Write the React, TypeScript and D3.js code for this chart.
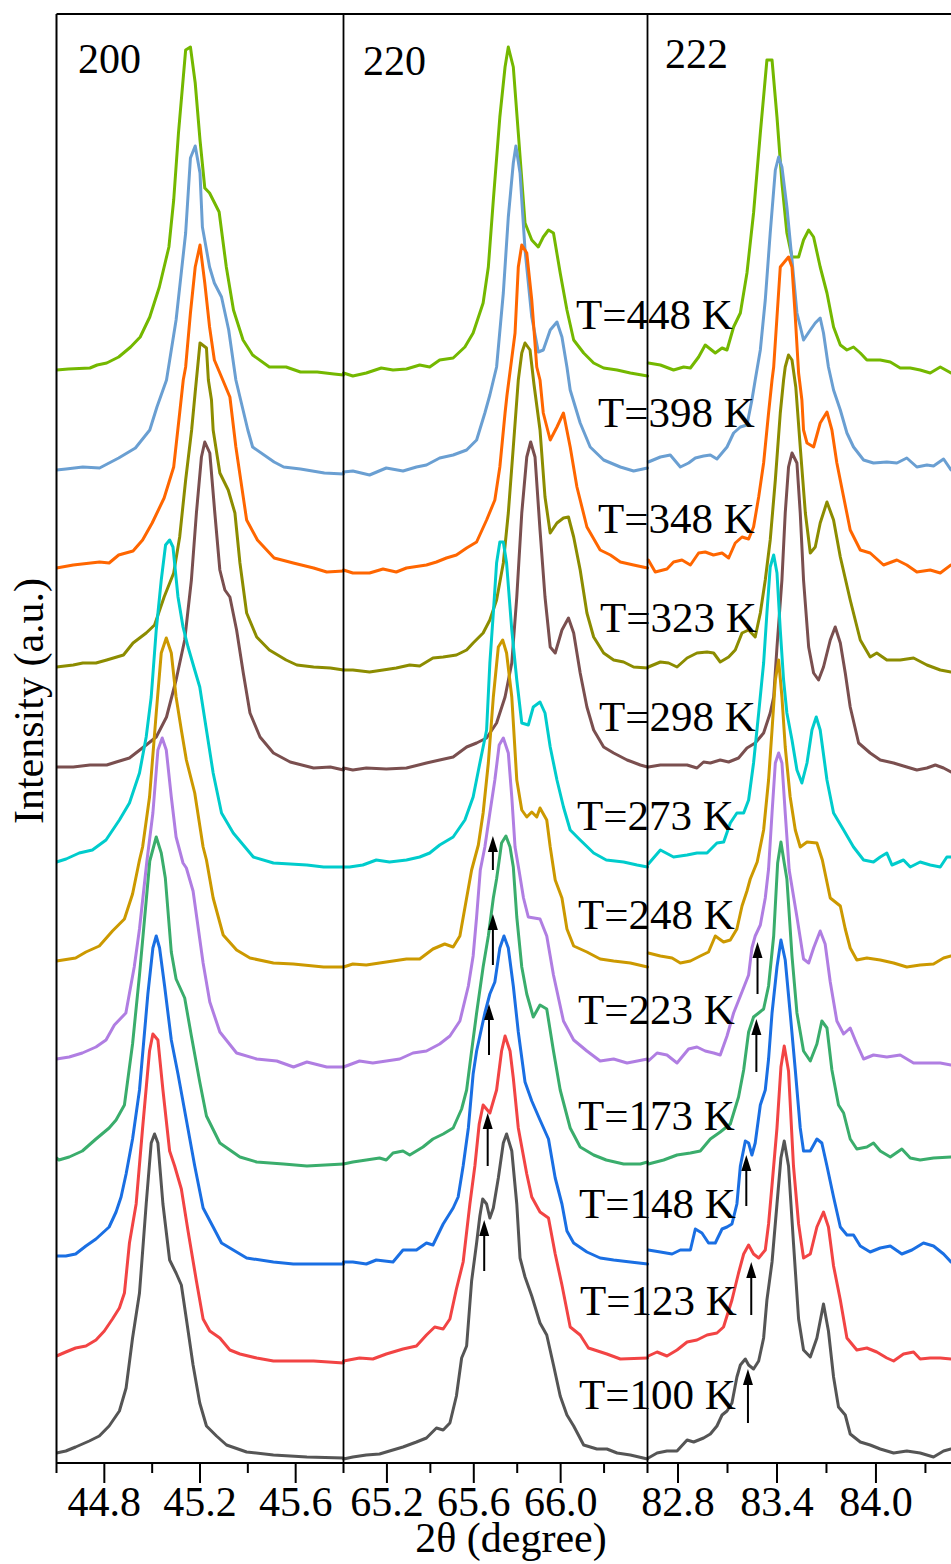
import React from 'react';
import * as d3 from 'd3';

const W = 951;
const H = 1564;
const plotTop = 14;
const plotBottom = 1463;
const edges = [56.5, 343.5, 647.5, 951];
const serif = '"Liberation Serif", "Times New Roman", serif';

// series, top to bottom
const temps = ['448', '398', '348', '323', '298', '273', '248', '223', '173', '148', '123', '100'];
const offsets = [1093, 993, 895, 796, 696, 601, 502, 404, 305, 207, 107, 10];
const colors = ['#74b800', '#6a9fd2', '#ff6600', '#8c8c00', '#7a4f4f', '#00cccc', '#cc9900', '#b07ee2', '#3aad6c', '#1a6fe3', '#f24444', '#555555'];

const reflections = ['200', '220', '222'];
const domains = [[44.6, 45.8], [65.0, 66.4], [82.615, 84.455]];
const majorTicks = [[44.8, 45.2, 45.6], [65.2, 65.6, 66.0], [82.8, 83.4, 84.0]];
const minorTicks = [[44.6, 45.0, 45.4, 45.8], [65.4, 65.8, 66.2, 66.4], [83.1, 83.7, 84.3]];

// (200) reflection: [2theta, intensity above baseline]
const p200_448 = [[44.60,0],[44.65,1],[44.74,2],[44.77,5],[44.81,7],[44.86,13],[44.91,23],[44.95,33],[44.99,53],[45.03,83],[45.07,123],[45.09,170],[45.11,237],[45.14,320],[45.16,323],[45.18,287],[45.20,230],[45.22,182],[45.24,177],[45.28,158],[45.31,103],[45.34,60],[45.38,30],[45.42,15],[45.49,3],[45.56,3],[45.62,-2],[45.69,-2],[45.76,-4],[45.80,-5]];
const p200_398 = [[44.60,0],[44.64,1],[44.71,3],[44.78,2],[44.86,12],[44.93,22],[44.99,40],[45.02,63],[45.06,90],[45.10,150],[45.14,237],[45.16,312],[45.18,324],[45.20,297],[45.21,243],[45.24,203],[45.26,187],[45.29,173],[45.32,140],[45.35,90],[45.37,70],[45.40,40],[45.42,23],[45.51,8],[45.55,3],[45.62,1],[45.72,-3],[45.80,-4]];
const p200_348 = [[44.60,0],[44.67,3],[44.78,6],[44.82,5],[44.86,13],[44.92,17],[44.96,28],[45.00,45],[45.05,70],[45.09,101],[45.115,155],[45.13,188],[45.14,201],[45.16,255],[45.18,301],[45.20,323],[45.22,285],[45.24,241],[45.26,208],[45.29,191],[45.325,171],[45.35,121],[45.395,48],[45.44,28],[45.51,10],[45.59,5],[45.675,0],[45.73,-4],[45.80,-3]];
const p200_323 = [[44.60,0],[44.67,2],[44.71,4],[44.765,4],[44.81,7],[44.88,12],[44.92,24],[44.975,34],[45.01,42],[45.05,70],[45.09,94],[45.115,130],[45.14,187],[45.165,237],[45.18,275],[45.20,324],[45.227,319],[45.235,287],[45.248,267],[45.255,237],[45.283,194],[45.318,177],[45.346,154],[45.367,104],[45.395,54],[45.437,30],[45.49,17],[45.56,7],[45.605,2],[45.675,0],[45.745,-1],[45.80,-3]];
const p200_298 = [[44.60,0],[44.67,0],[44.74,2],[44.81,2],[44.85,5],[44.905,9],[44.975,22],[45.017,30],[45.06,50],[45.10,87],[45.136,127],[45.164,187],[45.185,254],[45.206,310],[45.22,325],[45.241,314],[45.262,254],[45.283,197],[45.304,177],[45.325,170],[45.353,137],[45.381,94],[45.409,54],[45.451,30],[45.507,14],[45.577,5],[45.675,-1],[45.745,0],[45.80,-3]];
const p200_273 = [[44.60,0],[44.64,3],[44.695,9],[44.75,12],[44.807,22],[44.863,42],[44.905,59],[44.947,89],[44.975,125],[44.996,165],[45.017,232],[45.038,282],[45.056,317],[45.073,322],[45.087,315],[45.108,265],[45.129,235],[45.15,215],[45.178,192],[45.199,175],[45.227,132],[45.255,89],[45.29,49],[45.339,29],[45.423,5],[45.507,-1],[45.647,-3],[45.717,-5],[45.80,-5]];
const p200_248 = [[44.60,0],[44.68,3],[44.723,9],[44.779,15],[44.834,30],[44.884,42],[44.918,67],[44.947,101],[44.96,114],[44.989,164],[45.017,248],[45.038,308],[45.059,323],[45.08,308],[45.10,264],[45.122,231],[45.143,201],[45.178,168],[45.213,114],[45.227,101],[45.255,63],[45.297,26],[45.353,11],[45.409,3],[45.507,-2],[45.59,-3],[45.717,-6],[45.80,-6]];
const p200_223 = [[44.60,0],[44.653,2],[44.708,6],[44.765,12],[44.807,19],[44.842,34],[44.89,46],[44.925,92],[44.947,130],[44.978,198],[45.003,246],[45.024,309],[45.042,321],[45.059,309],[45.08,262],[45.10,222],[45.129,196],[45.143,191],[45.171,168],[45.213,96],[45.241,57],[45.283,27],[45.353,6],[45.437,0],[45.521,-2],[45.591,-8],[45.647,-3],[45.73,-8],[45.80,-8]];
const p200_173 = [[44.60,0],[44.61,-2],[44.653,1],[44.708,7],[44.765,19],[44.82,30],[44.849,38],[44.884,53],[44.918,114],[44.947,183],[44.99,297],[45.017,321],[45.038,305],[45.055,280],[45.08,206],[45.10,179],[45.136,160],[45.164,122],[45.199,76],[45.227,42],[45.283,15],[45.367,1],[45.437,-4],[45.549,-6],[45.647,-8],[45.80,-6]];
const p200_148 = [[44.60,0],[44.639,0],[44.68,2],[44.723,10],[44.765,17],[44.82,29],[44.849,44],[44.87,59],[44.891,82],[44.918,117],[44.947,166],[44.982,262],[45.003,308],[45.017,320],[45.031,308],[45.052,270],[45.08,216],[45.108,182],[45.143,136],[45.178,90],[45.213,48],[45.255,29],[45.29,13],[45.339,6],[45.395,-2],[45.507,-6],[45.59,-8],[45.80,-8]];
const p200_123 = [[44.60,0],[44.639,4],[44.68,8],[44.723,10],[44.765,16],[44.80,25],[44.834,37],[44.863,48],[44.884,63],[44.905,113],[44.933,152],[44.96,228],[44.989,305],[45.003,322],[45.024,316],[45.045,266],[45.073,205],[45.094,190],[45.122,167],[45.15,125],[45.185,75],[45.213,37],[45.241,25],[45.283,18],[45.325,6],[45.367,2],[45.437,-2],[45.507,-5],[45.675,-5],[45.80,-7]];
const p200_100 = [[44.60,0],[44.639,2],[44.68,6],[44.737,12],[44.779,17],[44.82,27],[44.863,42],[44.891,65],[44.918,115],[44.947,160],[44.975,249],[44.996,310],[45.01,319],[45.024,310],[45.045,249],[45.073,193],[45.10,180],[45.122,168],[45.143,134],[45.171,88],[45.199,50],[45.227,27],[45.269,17],[45.311,8],[45.395,1],[45.507,-2],[45.647,-4],[45.80,-5]];

// (220) reflection
const p220_448 = [[65.00,-3],[65.043,-6],[65.105,-3],[65.174,2],[65.228,0],[65.29,1],[65.351,5],[65.397,3],[65.443,10],[65.505,12],[65.559,23],[65.597,37],[65.643,67],[65.667,103],[65.69,170],[65.72,253],[65.744,303],[65.759,323],[65.782,303],[65.805,237],[65.836,147],[65.867,130],[65.897,123],[65.92,133],[65.944,140],[65.967,137],[65.998,97],[66.029,60],[66.06,30],[66.106,17],[66.152,7],[66.198,2],[66.26,0],[66.321,-3],[66.40,-6]];
const p220_398 = [[65.00,-2],[65.043,-1],[65.12,-5],[65.197,2],[65.274,-1],[65.336,3],[65.382,5],[65.443,12],[65.505,15],[65.567,20],[65.613,30],[65.651,57],[65.674,75],[65.705,103],[65.736,177],[65.759,253],[65.782,307],[65.794,324],[65.813,297],[65.836,220],[65.867,153],[65.897,118],[65.92,120],[65.952,140],[65.983,148],[66.006,133],[66.029,103],[66.044,80],[66.09,47],[66.136,23],[66.198,10],[66.275,3],[66.336,-1],[66.40,2]];
const p220_348 = [[65.00,-2],[65.043,-5],[65.12,-5],[65.182,-1],[65.243,-4],[65.29,0],[65.382,3],[65.428,6],[65.474,10],[65.52,13],[65.567,20],[65.613,26],[65.659,48],[65.697,68],[65.72,101],[65.744,155],[65.753,173],[65.79,235],[65.805,301],[65.821,323],[65.844,315],[65.867,268],[65.89,201],[65.905,188],[65.92,155],[65.952,128],[65.983,141],[66.013,155],[66.044,121],[66.075,81],[66.121,41],[66.182,18],[66.229,13],[66.275,6],[66.336,3],[66.40,0]];
const p220_323 = [[65.00,-3],[65.043,-3],[65.12,-5],[65.182,-3],[65.243,-1],[65.305,2],[65.351,1],[65.412,9],[65.459,10],[65.52,12],[65.567,17],[65.597,24],[65.643,34],[65.674,47],[65.705,67],[65.736,104],[65.759,154],[65.782,220],[65.805,287],[65.821,314],[65.836,324],[65.859,317],[65.877,283],[65.905,237],[65.928,170],[65.952,134],[65.983,144],[66.013,149],[66.036,150],[66.06,130],[66.09,97],[66.121,54],[66.152,30],[66.198,14],[66.244,7],[66.29,5],[66.336,0],[66.40,-1]];
const p220_298 = [[65.00,-1],[65.043,-3],[65.105,-1],[65.197,-2],[65.29,-1],[65.382,4],[65.443,7],[65.505,10],[65.567,20],[65.613,24],[65.659,29],[65.705,44],[65.744,70],[65.775,104],[65.798,170],[65.821,254],[65.844,310],[65.862,325],[65.882,310],[65.905,237],[65.928,170],[65.952,120],[65.975,114],[66.006,137],[66.036,149],[66.06,134],[66.09,94],[66.121,60],[66.152,37],[66.198,20],[66.244,14],[66.306,7],[66.367,2],[66.40,0]];
const p220_273 = [[65.00,-5],[65.028,-5],[65.089,-3],[65.151,2],[65.212,0],[65.29,2],[65.351,5],[65.397,9],[65.443,17],[65.505,25],[65.559,42],[65.597,65],[65.628,99],[65.659,132],[65.674,199],[65.69,249],[65.705,299],[65.72,320],[65.736,320],[65.751,299],[65.775,232],[65.798,182],[65.821,139],[65.851,137],[65.874,155],[65.905,160],[65.928,149],[65.952,115],[65.983,82],[66.013,55],[66.044,32],[66.09,22],[66.152,9],[66.21,2],[66.29,0],[66.352,-3],[66.40,-5]];
const p220_248 = [[65.00,-6],[65.043,-3],[65.105,-4],[65.166,-2],[65.228,0],[65.29,2],[65.351,2],[65.412,12],[65.466,17],[65.505,14],[65.536,25],[65.567,63],[65.59,91],[65.621,116],[65.643,148],[65.667,198],[65.69,264],[65.713,314],[65.733,321],[65.751,308],[65.775,264],[65.798,181],[65.821,151],[65.844,144],[65.867,149],[65.89,144],[65.905,153],[65.936,141],[65.952,114],[65.975,81],[66.006,63],[66.029,32],[66.06,15],[66.121,9],[66.182,2],[66.244,0],[66.321,-2],[66.40,-6]];
const p220_223 = [[65.00,-8],[65.074,-2],[65.135,-4],[65.197,-2],[65.259,0],[65.32,6],[65.382,8],[65.443,15],[65.49,23],[65.536,38],[65.575,73],[65.597,103],[65.613,142],[65.63,189],[65.651,212],[65.674,246],[65.697,279],[65.717,314],[65.736,321],[65.759,306],[65.775,262],[65.79,212],[65.808,189],[65.829,161],[65.851,142],[65.905,140],[65.936,123],[65.967,84],[66.013,38],[66.06,19],[66.121,8],[66.182,-2],[66.244,0],[66.306,-4],[66.40,0]];
const p220_173 = [[65.00,-6],[65.043,-4],[65.105,-2],[65.166,0],[65.197,-2],[65.228,5],[65.274,7],[65.305,3],[65.366,11],[65.412,19],[65.459,24],[65.505,30],[65.544,49],[65.567,68],[65.59,107],[65.613,145],[65.643,191],[65.667,222],[65.69,260],[65.705,279],[65.728,315],[65.748,322],[65.767,311],[65.782,291],[65.798,241],[65.821,191],[65.844,164],[65.874,141],[65.905,153],[65.936,149],[65.967,107],[65.998,68],[66.044,30],[66.09,11],[66.152,3],[66.21,-2],[66.29,-6],[66.367,-6],[66.40,-4]];
const p220_148 = [[65.00,-6],[65.043,-6],[65.105,-8],[65.151,-4],[65.228,-6],[65.274,6],[65.336,6],[65.382,13],[65.412,11],[65.459,32],[65.505,48],[65.528,59],[65.551,90],[65.575,128],[65.597,182],[65.613,205],[65.628,220],[65.651,243],[65.674,262],[65.697,274],[65.72,308],[65.739,320],[65.759,308],[65.782,270],[65.805,224],[65.836,174],[65.867,155],[65.905,136],[65.944,117],[65.975,78],[66.006,52],[66.029,25],[66.06,13],[66.121,4],[66.182,-2],[66.244,-4],[66.321,-6],[66.40,-8]];
const p220_123 = [[65.00,-5],[65.074,-2],[65.135,-3],[65.197,2],[65.274,7],[65.336,10],[65.382,21],[65.42,29],[65.459,27],[65.49,37],[65.52,67],[65.551,94],[65.582,152],[65.605,190],[65.625,232],[65.643,251],[65.674,243],[65.705,266],[65.728,305],[65.744,320],[65.767,305],[65.782,278],[65.805,228],[65.821,209],[65.844,182],[65.867,159],[65.905,144],[65.944,138],[65.975,102],[66.006,71],[66.044,29],[66.09,21],[66.128,8],[66.213,2],[66.275,-3],[66.40,-2]];
const p220_100 = [[65.00,-6],[65.043,-4],[65.105,-2],[65.166,-1],[65.212,2],[65.274,6],[65.336,11],[65.382,15],[65.428,25],[65.459,23],[65.49,30],[65.52,57],[65.544,95],[65.567,107],[65.59,172],[65.613,210],[65.628,237],[65.641,254],[65.659,249],[65.674,235],[65.69,245],[65.713,275],[65.736,310],[65.751,319],[65.775,302],[65.798,249],[65.813,195],[65.836,176],[65.867,157],[65.905,130],[65.936,118],[65.967,88],[65.998,57],[66.029,38],[66.06,27],[66.106,8],[66.167,4],[66.213,4],[66.26,0],[66.321,-2],[66.40,-6]];

// (222) reflection
const p222_448 = [[82.62,7],[82.693,5],[82.773,0],[82.834,3],[82.875,2],[82.925,13],[82.965,25],[83.026,17],[83.067,22],[83.097,20],[83.137,43],[83.178,57],[83.218,97],[83.258,157],[83.299,237],[83.339,310],[83.37,310],[83.40,253],[83.43,187],[83.46,137],[83.491,113],[83.531,113],[83.561,130],[83.592,140],[83.622,133],[83.662,103],[83.703,77],[83.743,43],[83.784,25],[83.824,20],[83.864,23],[83.905,17],[83.945,10],[84.026,10],[84.087,8],[84.147,2],[84.208,2],[84.268,0],[84.329,-3],[84.39,3],[84.455,-3]];
const p222_398 = [[82.62,8],[82.693,13],[82.753,15],[82.814,3],[82.864,7],[82.905,12],[82.955,14],[82.996,15],[83.036,11],[83.097,23],[83.137,37],[83.178,43],[83.218,45],[83.248,70],[83.268,90],[83.299,120],[83.329,170],[83.359,237],[83.39,300],[83.41,313],[83.43,303],[83.46,263],[83.491,210],[83.521,157],[83.561,130],[83.602,140],[83.632,147],[83.662,152],[83.682,137],[83.712,103],[83.743,80],[83.784,60],[83.824,37],[83.864,23],[83.925,10],[83.985,7],[84.066,8],[84.127,7],[84.187,12],[84.248,3],[84.309,5],[84.349,4],[84.41,11],[84.455,0]];
const p222_348 = [[82.62,8],[82.662,-4],[82.733,-1],[82.773,6],[82.824,8],[82.875,3],[82.925,15],[82.965,16],[83.015,13],[83.067,15],[83.107,10],[83.147,25],[83.188,31],[83.228,29],[83.258,41],[83.289,71],[83.319,105],[83.349,155],[83.37,188],[83.38,201],[83.40,251],[83.42,301],[83.44,305],[83.47,311],[83.491,301],[83.511,251],[83.531,195],[83.551,168],[83.561,138],[83.582,125],[83.622,121],[83.662,145],[83.703,156],[83.733,138],[83.763,105],[83.804,71],[83.844,38],[83.905,18],[83.965,15],[84.046,3],[84.127,8],[84.187,3],[84.248,-4],[84.329,-2],[84.39,-5],[84.455,3]];
const p222_323 = [[82.62,0],[82.693,5],[82.743,4],[82.794,0],[82.855,9],[82.915,14],[82.976,15],[83.016,14],[83.056,5],[83.107,10],[83.147,17],[83.188,34],[83.228,37],[83.268,30],[83.299,54],[83.329,87],[83.359,127],[83.39,187],[83.42,254],[83.44,287],[83.45,300],[83.47,312],[83.491,307],[83.514,280],[83.541,220],[83.572,154],[83.602,114],[83.632,120],[83.662,144],[83.703,165],[83.743,147],[83.784,110],[83.844,67],[83.905,27],[83.965,10],[84.005,14],[84.066,7],[84.147,7],[84.228,9],[84.309,2],[84.39,-3],[84.455,-5]];
const p222_298 = [[82.62,0],[82.693,2],[82.773,2],[82.855,2],[82.915,-1],[82.955,5],[82.996,4],[83.056,7],[83.107,5],[83.167,9],[83.218,19],[83.268,24],[83.319,34],[83.359,54],[83.38,70],[83.40,120],[83.43,187],[83.45,254],[83.47,300],[83.491,314],[83.521,304],[83.541,254],[83.561,187],[83.592,120],[83.622,94],[83.652,87],[83.682,100],[83.723,127],[83.753,140],[83.784,124],[83.814,94],[83.844,60],[83.895,24],[83.965,14],[84.026,7],[84.107,4],[84.187,0],[84.248,-3],[84.309,-1],[84.36,2],[84.41,-1],[84.455,-5]];
const p222_273 = [[82.62,-2],[82.693,12],[82.773,5],[82.855,7],[82.915,9],[82.976,9],[83.036,19],[83.077,20],[83.117,39],[83.157,49],[83.198,49],[83.228,62],[83.258,99],[83.289,149],[83.319,199],[83.339,249],[83.359,295],[83.38,307],[83.40,289],[83.42,232],[83.44,182],[83.46,149],[83.491,122],[83.521,92],[83.551,79],[83.582,99],[83.612,132],[83.638,145],[83.662,132],[83.703,82],[83.743,49],[83.804,32],[83.864,15],[83.925,2],[83.985,0],[84.026,5],[84.066,9],[84.097,-3],[84.167,2],[84.208,-5],[84.268,0],[84.329,-3],[84.39,-5],[84.43,5],[84.455,5]];
const p222_248 = [[82.62,8],[82.693,5],[82.764,3],[82.814,-2],[82.875,0],[82.935,5],[82.985,9],[83.026,25],[83.076,19],[83.117,21],[83.157,32],[83.188,55],[83.218,70],[83.238,82],[83.28,99],[83.319,131],[83.349,181],[83.37,231],[83.39,281],[83.41,301],[83.43,264],[83.45,214],[83.48,164],[83.511,131],[83.541,114],[83.582,119],[83.642,118],[83.675,101],[83.723,63],[83.784,55],[83.814,32],[83.844,13],[83.884,1],[83.945,3],[84.026,1],[84.107,-2],[84.187,-6],[84.268,-4],[84.349,-3],[84.41,3],[84.455,5]];
const p222_223 = [[82.62,-2],[82.673,6],[82.733,4],[82.794,-4],[82.864,10],[82.915,12],[82.965,8],[83.016,6],[83.056,4],[83.097,23],[83.137,46],[83.178,63],[83.228,84],[83.248,111],[83.268,123],[83.299,134],[83.329,161],[83.349,190],[83.37,246],[83.39,296],[83.41,306],[83.43,296],[83.45,246],[83.474,189],[83.521,142],[83.561,100],[83.592,96],[83.622,111],[83.662,128],[83.692,115],[83.723,77],[83.763,38],[83.804,25],[83.844,31],[83.884,15],[83.925,0],[83.985,4],[84.066,2],[84.147,4],[84.228,-4],[84.309,-4],[84.39,-4],[84.455,-6]];
const p222_173 = [[82.62,-6],[82.713,-2],[82.794,3],[82.875,5],[82.935,7],[82.996,19],[83.056,26],[83.117,34],[83.167,61],[83.198,88],[83.228,126],[83.258,141],[83.289,145],[83.319,149],[83.349,172],[83.38,222],[83.404,295],[83.424,316],[83.444,295],[83.46,279],[83.491,202],[83.521,145],[83.561,107],[83.602,97],[83.642,114],[83.672,137],[83.703,130],[83.733,88],[83.773,53],[83.804,45],[83.844,19],[83.884,9],[83.945,11],[83.985,15],[84.026,7],[84.087,1],[84.157,9],[84.208,0],[84.268,-2],[84.349,0],[84.455,1]];
const p222_148 = [[82.62,6],[82.693,4],[82.764,2],[82.814,6],[82.875,6],[82.905,27],[82.945,23],[82.985,13],[83.026,13],[83.067,27],[83.097,29],[83.127,32],[83.157,52],[83.178,90],[83.208,115],[83.228,113],[83.248,101],[83.268,113],[83.299,151],[83.329,166],[83.349,197],[83.37,243],[83.40,289],[83.424,316],[83.45,296],[83.48,243],[83.511,186],[83.541,128],[83.561,105],[83.602,105],[83.642,117],[83.672,113],[83.703,90],[83.743,59],[83.784,29],[83.824,21],[83.864,21],[83.905,10],[83.965,4],[84.026,8],[84.087,10],[84.157,2],[84.218,6],[84.288,13],[84.349,10],[84.41,2],[84.455,-6]];
const p222_123 = [[82.62,0],[82.673,4],[82.733,0],[82.794,6],[82.855,14],[82.915,16],[82.976,21],[83.036,23],[83.076,29],[83.127,56],[83.167,83],[83.198,102],[83.228,111],[83.258,102],[83.289,98],[83.329,106],[83.349,132],[83.37,171],[83.40,228],[83.424,289],[83.444,310],[83.47,285],[83.50,190],[83.531,132],[83.561,98],[83.602,102],[83.642,129],[83.682,144],[83.712,129],[83.743,90],[83.784,56],[83.824,18],[83.884,6],[83.945,8],[84.005,4],[84.066,-2],[84.107,-5],[84.167,2],[84.228,4],[84.268,-3],[84.329,-2],[84.39,-2],[84.455,-3]];
const p222_100 = [[82.62,-5],[82.673,0],[82.733,2],[82.794,2],[82.855,13],[82.895,11],[82.955,15],[82.996,19],[83.036,27],[83.067,38],[83.097,42],[83.127,50],[83.157,76],[83.178,88],[83.208,94],[83.228,88],[83.258,84],[83.289,92],[83.319,115],[83.339,153],[83.37,191],[83.40,249],[83.424,295],[83.444,312],[83.47,287],[83.50,210],[83.531,134],[83.561,103],[83.602,96],[83.642,115],[83.682,149],[83.712,122],[83.743,76],[83.773,46],[83.814,38],[83.844,19],[83.905,11],[83.965,8],[84.026,4],[84.107,0],[84.187,2],[84.268,0],[84.349,-4],[84.41,2],[84.455,4]];

const profiles = [
  [p200_448, p200_398, p200_348, p200_323, p200_298, p200_273, p200_248, p200_223, p200_173, p200_148, p200_123, p200_100],
  [p220_448, p220_398, p220_348, p220_323, p220_298, p220_273, p220_248, p220_223, p220_173, p220_148, p220_123, p220_100],
  [p222_448, p222_398, p222_348, p222_323, p222_298, p222_273, p222_248, p222_223, p222_173, p222_148, p222_123, p222_100],
];

// shoulder markers: [2theta, tail intensity, tip intensity]
const arrows220 = [[65.688, 593, 627], [65.688, 498, 549], [65.67, 408, 459], [65.664, 297, 350], [65.648, 192, 243]];
const arrows222 = [[83.282, 469, 521], [83.275, 391, 444], [83.214, 257, 308], [83.244, 148, 201], [83.224, 40, 94]];

// label anchors (layout)
const labelPos = [[576, 329], [598, 427], [598, 533], [600, 632], [599, 731], [577, 830], [578, 929], [578, 1024], [578, 1130], [579, 1218], [580, 1315], [579, 1409]];
const reflPos = [[78, 73], [363, 75], [665, 68]];

const y = d3.scaleLinear().domain([0, plotBottom - plotTop]).range([plotBottom, plotTop]);
const xs = domains.map((dom, i) => d3.scaleLinear().domain(dom).range([edges[i], edges[i + 1]]));
const fmt = d3.format('.1f');

function Arrow({ x, y0, y1 }: { x: number; y0: number; y1: number }) {
  const head = 16;
  return (
    <g>
      <line x1={x} x2={x} y1={y0} y2={y1 + head - 2} stroke="#000" strokeWidth={2} />
      <path d={`M${x},${y1} L${x - 5},${y1 + head} L${x + 5},${y1 + head} Z`} fill="#000" />
    </g>
  );
}

export default function App() {
  const order = d3.range(temps.length);
  return (
    <div style={{ position: 'absolute', left: 0, top: 0 }}>
      <svg width={W} height={H} style={{ display: 'block', background: '#fff' }} fontFamily={serif}>
        <defs>
          <clipPath id="plotclip">
            <rect x={edges[0]} y={0} width={W - edges[0]} height={plotBottom + 2} />
          </clipPath>
        </defs>
        <g clipPath="url(#plotclip)">
          {xs.map((x, p) => {
            return order.map((s) => {
              const off = offsets[s];
              const line = d3.line<number[]>().x((d) => x(d[0])).y((d) => y(off + d[1]));
              return (
                <path key={`${p}-${s}`} d={line(profiles[p][s]) || ''} fill="none" stroke={colors[s]}
                  strokeWidth={3} strokeLinejoin="round" strokeLinecap="round" />
              );
            });
          })}
        </g>

        {/* frame */}
        <line x1={edges[0]} x2={W} y1={plotTop} y2={plotTop} stroke="#000" strokeWidth={2} />
        <line x1={edges[0]} x2={edges[0]} y1={plotTop} y2={plotBottom} stroke="#000" strokeWidth={2} />
        <line x1={edges[1]} x2={edges[1]} y1={plotTop} y2={plotBottom} stroke="#000" strokeWidth={1.8} />
        <line x1={edges[2]} x2={edges[2]} y1={plotTop} y2={plotBottom} stroke="#000" strokeWidth={1.8} />
        <line x1={edges[0]} x2={W} y1={plotBottom} y2={plotBottom} stroke="#000" strokeWidth={2} />

        {xs.map((x, p) => (
          <g key={`ax${p}`}>
            {minorTicks[p].map((t) => (
              <line key={`mi${t}`} x1={x(t)} x2={x(t)} y1={plotBottom} y2={plotBottom + 10} stroke="#000" strokeWidth={2} />
            ))}
            {majorTicks[p].map((t) => (
              <g key={`ma${t}`}>
                <line x1={x(t)} x2={x(t)} y1={plotBottom} y2={plotBottom + 20} stroke="#000" strokeWidth={2} />
                <text x={x(t)} y={1516} textAnchor="middle" fontSize={42}>{fmt(t)}</text>
              </g>
            ))}
            <text x={reflPos[p][0]} y={reflPos[p][1]} fontSize={42}>{reflections[p]}</text>
          </g>
        ))}

        {arrows220.map((a, i) => (
          <Arrow key={`a2${i}`} x={xs[1](a[0])} y0={y(a[1])} y1={y(a[2])} />
        ))}
        {arrows222.map((a, i) => (
          <Arrow key={`a3${i}`} x={xs[2](a[0])} y0={y(a[1])} y1={y(a[2])} />
        ))}

        {temps.map((t, i) => (
          <text key={`lab${t}`} x={labelPos[i][0]} y={labelPos[i][1]} fontSize={43}>{`T=${t} K`}</text>
        ))}

        <text x={511} y={1552} textAnchor="middle" fontSize={42}>2θ (degree)</text>
        <text transform="translate(43,701) rotate(-90)" textAnchor="middle" fontSize={42}>Intensity (a.u.)</text>
      </svg>
    </div>
  );
}
